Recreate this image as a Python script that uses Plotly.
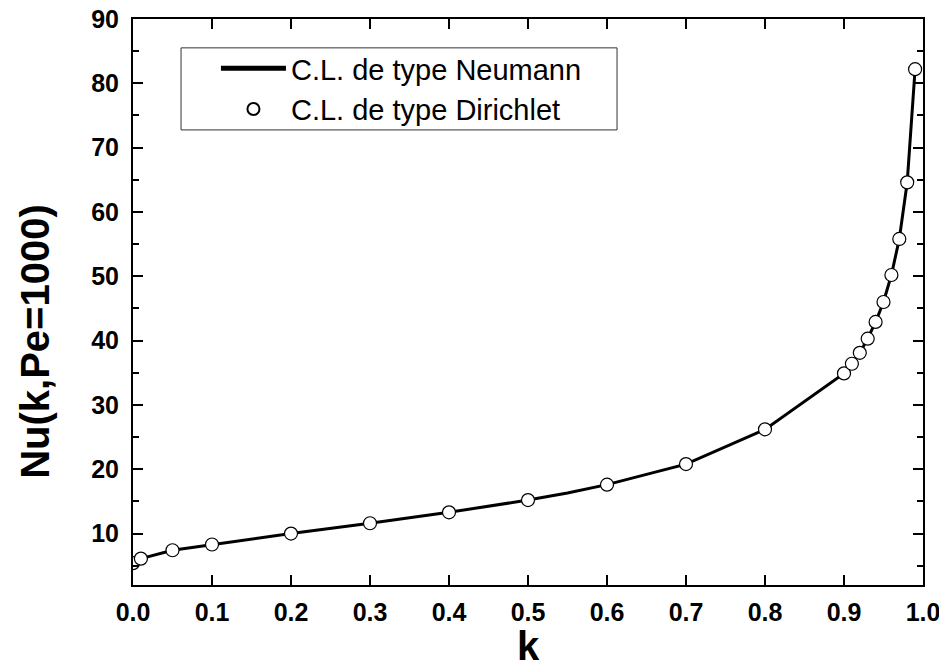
import plotly.graph_objects as go

# Dirichlet boundary condition (markers)
k_dirichlet = [0.0, 0.01, 0.05, 0.1, 0.2, 0.3, 0.4, 0.5, 0.6, 0.7, 0.8,
               0.9, 0.91, 0.92, 0.93, 0.94, 0.95, 0.96, 0.97, 0.98, 0.99]
nu_dirichlet = [5.4, 6.1, 7.4, 8.3, 10.0, 11.6, 13.3, 15.2, 17.6, 20.8, 26.2,
                34.9, 36.4, 38.1, 40.3, 42.9, 46.0, 50.2, 55.8, 64.6, 82.2]

# Neumann boundary condition (line)
k_neumann = [0.0, 0.01, 0.05, 0.1, 0.2, 0.3, 0.4, 0.5, 0.55, 0.6, 0.7, 0.8,
             0.9, 0.91, 0.92, 0.93, 0.94, 0.95, 0.96, 0.97, 0.98, 0.99]
nu_neumann = [5.6, 6.1, 7.4, 8.3, 10.0, 11.6, 13.3, 15.2, 16.3, 17.6, 20.8, 26.2,
              34.9, 36.4, 38.1, 40.3, 42.9, 46.0, 50.2, 55.8, 64.6, 82.2]

x_ticks = [0.0, 0.1, 0.2, 0.3, 0.4, 0.5, 0.6, 0.7, 0.8, 0.9, 1.0]
x_ticklabels = ["0.0", "0.1", "0.2", "0.3", "0.4", "0.5", "0.6", "0.7", "0.8", "0.9", "1.0"]
y_ticks = [10, 20, 30, 40, 50, 60, 70, 80, 90]

FONT = "Liberation Sans, Arial, sans-serif"

fig = go.Figure()
fig.add_trace(go.Scatter(
    x=k_neumann, y=nu_neumann, mode="lines", name="C.L. de type Neumann",
    line=dict(color="black", width=3),
))
fig.add_trace(go.Scatter(
    x=k_dirichlet, y=nu_dirichlet, mode="markers", name="C.L. de type Dirichlet",
    marker=dict(symbol="circle", size=13, color="white",
                line=dict(color="black", width=1.2)),
))

axis_common = dict(
    showline=True, linecolor="black", linewidth=2, mirror="ticks",
    ticks="inside", ticklen=10, tickwidth=2, tickcolor="black",
    showgrid=False, zeroline=False, automargin=False,
    ticklabeloverflow="allow",
    tickfont=dict(family=FONT, size=25, color="black", weight="bold"),
)

fig.update_xaxes(
    range=[0, 1], tickvals=x_ticks, ticktext=x_ticklabels,
    ticklabelstandoff=4,
    **axis_common,
)
fig.update_yaxes(
    range=[2, 90], tickvals=y_ticks,
    minor=dict(dtick=5, tick0=0, ticks="inside", ticklen=6, tickwidth=2, tickcolor="black"),
    ticklabelstandoff=7,
    **axis_common,
)

title_font = dict(family=FONT, size=40, color="black", weight="bold")
fig.add_annotation(
    text="Nu(k,Pe=1000)", textangle=-90, xref="paper", yref="paper",
    x=-0.125, y=0.43, xanchor="center", yanchor="middle", showarrow=False,
    font=title_font,
)
fig.add_annotation(
    text="k", xref="paper", yref="paper",
    x=0.5, y=-0.108, xanchor="center", yanchor="middle", showarrow=False,
    font=title_font,
)

# legend frame
fig.add_shape(
    type="rect", xref="paper", yref="paper",
    x0=0.0608, x1=0.6127, y0=0.804, y1=0.949,
    line=dict(color="#333333", width=1), fillcolor="white", layer="below",
)

fig.update_layout(
    width=939, height=664,
    margin=dict(l=125, r=24, t=11, b=87),
    paper_bgcolor="white", plot_bgcolor="white",
    showlegend=True,
    legend=dict(
        x=0.105, y=0.8765, xanchor="left", yanchor="middle",
        bgcolor="rgba(0,0,0,0)", borderwidth=0,
        font=dict(family=FONT, size=29, color="black"),
        tracegroupgap=0, itemsizing="constant", itemwidth=65,
    ),
)

fig.write_html("out.html")
